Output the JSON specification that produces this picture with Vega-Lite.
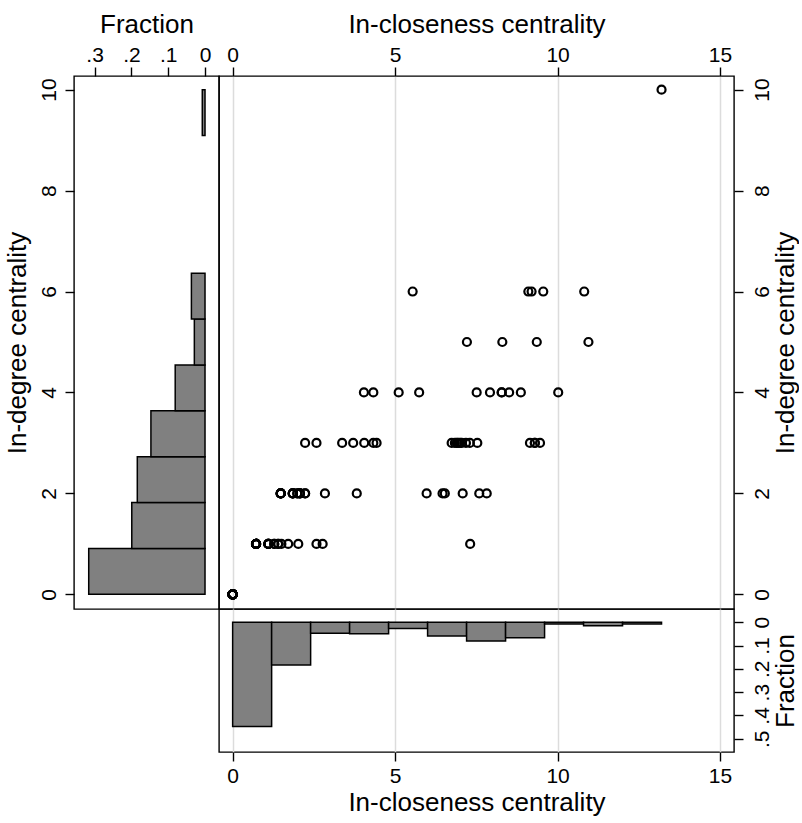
{
  "$schema": "https://vega.github.io/schema/vega-lite/v6.json",
  "background": "white",
  "padding": {"left": 3, "top": 10, "right": 0, "bottom": 0},
  "columns": 2,
  "spacing": 0,
  "bounds": "flush",
  "datasets": {
    "scatter": [
      {"c":0,"d":0},{"c":0,"d":0},{"c":0,"d":0},{"c":0,"d":0},{"c":0,"d":0},{"c":0,"d":0},{"c":0,"d":0},{"c":0,"d":0},{"c":0,"d":0},{"c":0,"d":0},
      {"c":0,"d":0},{"c":0,"d":0},{"c":0,"d":0},{"c":0,"d":0},{"c":0,"d":0},{"c":0,"d":0},{"c":0,"d":0},{"c":0,"d":0},{"c":0,"d":0},{"c":0,"d":0},
      {"c":0,"d":0},{"c":0,"d":0},{"c":0,"d":0},{"c":0,"d":0},{"c":0,"d":0},{"c":0,"d":0},{"c":0,"d":0},{"c":0,"d":0},{"c":0,"d":0},{"c":0,"d":0},
      {"c":0,"d":0},{"c":0,"d":0},{"c":0,"d":0},{"c":0,"d":0},{"c":0,"d":0},{"c":0,"d":0},{"c":0,"d":0},{"c":0,"d":0},{"c":0,"d":0},{"c":0,"d":0},
      {"c":0,"d":0},{"c":0,"d":0},{"c":0,"d":0},
      {"c":0.72,"d":1},{"c":0.72,"d":1},{"c":0.72,"d":1},{"c":0.72,"d":1},{"c":0.72,"d":1},{"c":0.72,"d":1},{"c":0.72,"d":1},{"c":0.72,"d":1},{"c":0.72,"d":1},{"c":0.72,"d":1},{"c":0.72,"d":1},{"c":0.72,"d":1},
      {"c":1.10,"d":1},{"c":1.10,"d":1},{"c":1.10,"d":1},{"c":1.10,"d":1},{"c":1.10,"d":1},
      {"c":1.28,"d":1},{"c":1.28,"d":1},{"c":1.40,"d":1},{"c":1.40,"d":1},{"c":1.50,"d":1},{"c":1.71,"d":1},{"c":2.02,"d":1},{"c":2.58,"d":1},{"c":2.77,"d":1},{"c":7.31,"d":1},
      {"c":1.48,"d":2},{"c":1.48,"d":2},{"c":1.48,"d":2},{"c":1.48,"d":2},{"c":1.48,"d":2},{"c":1.48,"d":2},
      {"c":1.85,"d":2},{"c":1.85,"d":2},{"c":1.85,"d":2},{"c":1.85,"d":2},
      {"c":1.99,"d":2},{"c":1.99,"d":2},{"c":2.07,"d":2},{"c":2.07,"d":2},{"c":2.07,"d":2},{"c":2.23,"d":2},{"c":2.23,"d":2},
      {"c":2.84,"d":2},{"c":3.82,"d":2},{"c":5.97,"d":2},{"c":6.46,"d":2},{"c":6.53,"d":2},{"c":7.08,"d":2},{"c":7.59,"d":2},{"c":7.82,"d":2},
      {"c":2.23,"d":3},{"c":2.58,"d":3},{"c":3.37,"d":3},{"c":3.71,"d":3},{"c":4.05,"d":3},{"c":4.33,"d":3},{"c":4.43,"d":3},
      {"c":6.74,"d":3},{"c":6.84,"d":3},{"c":6.90,"d":3},{"c":6.94,"d":3},{"c":7.00,"d":3},{"c":7.05,"d":3},{"c":7.18,"d":3},{"c":7.30,"d":3},{"c":7.53,"d":3},
      {"c":9.15,"d":3},{"c":9.30,"d":3},{"c":9.30,"d":3},{"c":9.46,"d":3},
      {"c":4.04,"d":4},{"c":4.33,"d":4},{"c":5.11,"d":4},{"c":5.74,"d":4},{"c":7.51,"d":4},{"c":7.92,"d":4},{"c":8.28,"d":4},{"c":8.28,"d":4},{"c":8.51,"d":4},{"c":8.87,"d":4},{"c":10.02,"d":4},
      {"c":7.21,"d":5},{"c":8.30,"d":5},{"c":9.36,"d":5},{"c":10.95,"d":5},
      {"c":5.54,"d":6},{"c":9.10,"d":6},{"c":9.20,"d":6},{"c":9.56,"d":6},{"c":10.82,"d":6},
      {"c":13.2,"d":10}
    ],
    "yhist": [
      {"y0":0.0,"y1":0.909,"frac":0.316},
      {"y0":0.909,"y1":1.818,"frac":0.199},
      {"y0":1.818,"y1":2.727,"frac":0.184},
      {"y0":2.727,"y1":3.636,"frac":0.147},
      {"y0":3.636,"y1":4.545,"frac":0.081},
      {"y0":4.545,"y1":5.455,"frac":0.029},
      {"y0":5.455,"y1":6.364,"frac":0.037},
      {"y0":9.091,"y1":10.0,"frac":0.0074}
    ],
    "xhist": [
      {"x0":0.0,"x1":1.2,"frac":0.447},
      {"x0":1.2,"x1":2.4,"frac":0.183},
      {"x0":2.4,"x1":3.6,"frac":0.047},
      {"x0":3.6,"x1":4.8,"frac":0.049},
      {"x0":4.8,"x1":6.0,"frac":0.027},
      {"x0":6.0,"x1":7.2,"frac":0.059},
      {"x0":7.2,"x1":8.4,"frac":0.080},
      {"x0":8.4,"x1":9.6,"frac":0.066},
      {"x0":9.6,"x1":10.8,"frac":0.0074},
      {"x0":10.8,"x1":12.0,"frac":0.0147},
      {"x0":12.0,"x1":13.2,"frac":0.0074}
    ]
  },
  "concat": [
    {
      "width": 145,
      "height": 533,
      "data": {"name": "yhist"},
      "mark": {"type": "rect", "fill": "#808080", "stroke": "black", "strokeWidth": 1.5},
      "encoding": {
        "y": {"field": "y0", "type": "quantitative",
          "scale": {"domain": [-0.29, 10.27], "nice": false, "zero": false},
          "axis": {"orient": "left", "values": [0, 2, 4, 6, 8, 10], "title": "In-degree centrality",
            "labelAngle": -90, "labelAlign": "center", "labelBaseline": "bottom",
            "labelPadding": 6, "titlePadding": 7.5}},
        "y2": {"field": "y1"},
        "x": {"field": "frac", "type": "quantitative",
          "scale": {"domain": [-0.038, 0.356], "nice": false, "zero": false, "reverse": true},
          "axis": {"orient": "top", "values": [0, 0.1, 0.2, 0.3], "title": "Fraction",
            "labelExpr": "datum.value == 0 ? '0' : '.' + format(datum.value * 10, 'd')",
            "labelPadding": 2, "titlePadding": 7}},
        "x2": {"datum": 0}
      }
    },
    {
      "width": 515,
      "height": 533,
      "data": {"name": "scatter"},
      "mark": {"type": "point", "shape": "circle", "filled": false, "stroke": "black", "strokeWidth": 2.2, "size": 64, "opacity": 1},
      "encoding": {
        "x": {"field": "c", "type": "quantitative",
          "scale": {"domain": [-0.42, 15.43], "nice": false, "zero": false},
          "axis": {"orient": "top", "values": [0, 5, 10, 15], "title": "In-closeness centrality",
            "grid": true, "gridColor": "#dcdcdc", "gridWidth": 1.5,
            "labelPadding": 2, "titlePadding": 7}},
        "y": {"field": "d", "type": "quantitative",
          "scale": {"domain": [-0.29, 10.27], "nice": false, "zero": false},
          "axis": {"orient": "right", "values": [0, 2, 4, 6, 8, 10], "title": "In-degree centrality",
            "labelAngle": -90, "labelAlign": "center", "labelBaseline": "top",
            "titleAngle": 270, "titleBaseline": "top",
            "labelPadding": 8, "titlePadding": 0}}
      }
    },
    {
      "width": 145,
      "height": 143,
      "data": {"values": [{"a": 1}]},
      "mark": {"type": "point", "opacity": 0},
      "encoding": {},
      "view": {"stroke": null}
    },
    {
      "width": 515,
      "height": 143,
      "data": {"name": "xhist"},
      "mark": {"type": "rect", "fill": "#808080", "stroke": "black", "strokeWidth": 1.5},
      "encoding": {
        "x": {"field": "x0", "type": "quantitative",
          "scale": {"domain": [-0.42, 15.43], "nice": false, "zero": false},
          "axis": {"orient": "bottom", "values": [0, 5, 10, 15], "title": "In-closeness centrality",
            "grid": true, "gridColor": "#dcdcdc", "gridWidth": 1.5,
            "labelPadding": 4, "titlePadding": 3}},
        "x2": {"field": "x1"},
        "y": {"field": "frac", "type": "quantitative",
          "scale": {"domain": [-0.057, 0.557], "nice": false, "zero": false, "reverse": true},
          "axis": {"orient": "right", "values": [0, 0.1, 0.2, 0.3, 0.4, 0.5], "title": "Fraction",
            "labelExpr": "datum.value == 0 ? '0' : '.' + format(datum.value * 10, 'd')",
            "labelAngle": -90, "labelAlign": "center", "labelBaseline": "top",
            "titleAngle": 270, "titleBaseline": "top",
            "labelPadding": 8, "titlePadding": 0}},
        "y2": {"datum": 0}
      }
    }
  ],
  "config": {
    "view": {"stroke": "black", "strokeWidth": 1.4},
    "axis": {
      "labelFont": "Liberation Sans", "titleFont": "Liberation Sans",
      "labelFontSize": 21, "titleFontSize": 26, "titleFontWeight": "normal",
      "labelColor": "black", "titleColor": "black",
      "tickColor": "black", "tickWidth": 1.4, "tickSize": 9,
      "domain": false, "grid": false,
      "labelOverlap": false, "labelFlush": false
    }
  }
}
